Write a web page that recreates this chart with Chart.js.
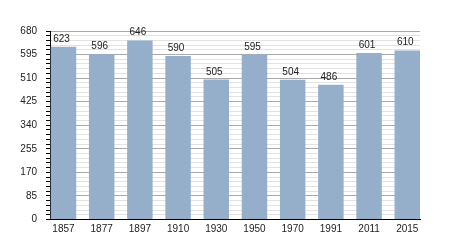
<!DOCTYPE html>
<html>
<head>
<meta charset="utf-8">
<script src="https://cdn.jsdelivr.net/npm/chart.js@4"></script>
<style>
  html, body { margin: 0; padding: 0; background: #fff; }
  #wrap { width: 450px; height: 250px; position: relative; }
</style>
</head>
<body>
<div id="wrap"><canvas id="popChart"></canvas></div>
<script>
const years = ['1857', '1877', '1897', '1910', '1930', '1950', '1970', '1991', '2011', '2015'];
const population = [623, 596, 646, 590, 505, 595, 504, 486, 601, 610];
const yMax = 680;
const yMajorStep = 85;
const yMinorStep = 17;

const FONT = 'Liberation Sans, Arial, sans-serif';

const valueLabels = {
  id: 'valueLabels',
  afterDatasetsDraw(chart) {
    const { ctx } = chart;
    const meta = chart.getDatasetMeta(0);
    ctx.save();
    ctx.font = '10px ' + FONT;
    ctx.fillStyle = '#222';
    ctx.textAlign = 'center';
    ctx.textBaseline = 'alphabetic';
    meta.data.forEach((bar, i) => {
      ctx.fillText(String(population[i]), bar.x - 2, bar.y - 5);
    });
    ctx.restore();
  },
};

new Chart(document.getElementById('popChart'), {
  type: 'bar',
  data: {
    datasets: [{
      data: population.map((v, i) => ({ x: i, y: v })),
      backgroundColor: '#95aeca',
      borderWidth: 0,
      categoryPercentage: 1,
      barPercentage: 0.667,
    }],
  },
  options: {
    responsive: true, maintainAspectRatio: false, animation: false,
    layout: { padding: { top: 31, right: 30, left: 0, bottom: 0 } },
    plugins: { legend: { display: false }, tooltip: { enabled: false } },
    scales: {
      x: {
        type: 'linear', min: -0.353, max: 9.333, offset: false,
        afterBuildTicks: (s) => { s.ticks = years.map((_, i) => ({ value: i })); },
        afterFit: (s) => { s.height = 30.5; },
        grid: { display: false, drawTicks: false, offset: false },
        border: { display: true, color: '#000', width: 1 },
        ticks: {
          autoSkip: false, maxRotation: 0, padding: 4,
          font: { size: 10, family: FONT }, color: '#222',
          callback: (v) => years[v],
        },
      },
      y: {
        min: 0, max: yMax,
        afterFit: (s) => { s.width = 50; },
        grid: {
          color: (c) => (c.tick && c.tick.value % yMajorStep === 0) ? '#a9a9a9' : '#e2e2e2',
          tickColor: '#000', tickLength: 4,
        },
        border: { display: true, color: '#000', width: 1 },
        ticks: {
          stepSize: yMinorStep, autoSkip: false, padding: 9,
          font: { size: 10, family: FONT }, color: '#222',
          callback: (v) => (v % yMajorStep === 0 ? String(v) : ''),
        },
      },
    },
  },
  plugins: [valueLabels],
});
</script>
</body>
</html>
